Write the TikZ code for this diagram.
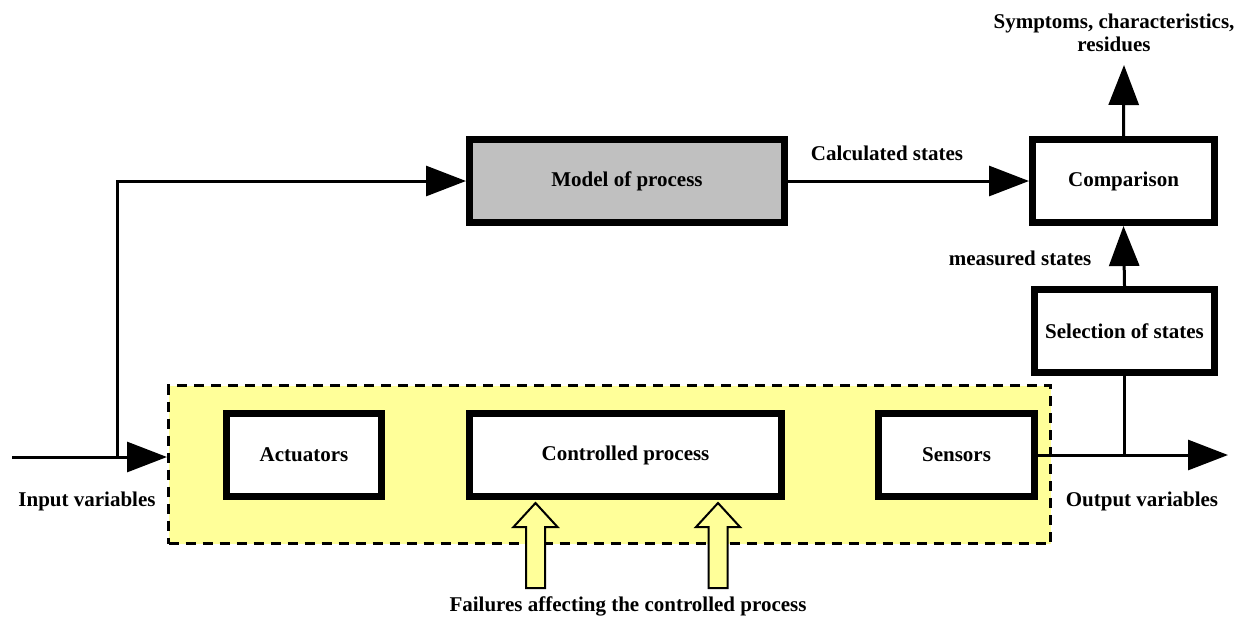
\documentclass[tikz,border=0pt]{standalone}
\usepackage{fontspec}
\setmainfont{Liberation Serif}
\usetikzlibrary{arrows.meta}
\definecolor{boxgray}{HTML}{C0C0C0}
\definecolor{paleyellow}{HTML}{FFFF99}
\tikzset{
  blk/.style={draw=black, line width=7pt, fill=white, inner sep=0pt, minimum height=83pt, font=\bfseries\fontsize{21}{23}\selectfont},
  conn/.style={draw=black, line width=3pt},
  arr/.style={conn, -{Triangle[length=40pt,width=30pt]}},
  lbl/.style={font=\bfseries\fontsize{21}{23}\selectfont, inner sep=0pt, align=center},
  hollow/.style={draw=black, line width=2pt, fill=paleyellow, line join=miter},
}
\begin{document}
\begin{tikzpicture}[x=1pt,y=-1pt]
\useasboundingbox (0,0) rectangle (1244,619);
% yellow region
\node[draw=black, line width=3.5pt, dash pattern=on 10pt off 7pt, fill=paleyellow, minimum width=882pt, minimum height=158pt, inner sep=0pt] (region) at (609.5,464.5) {};
% boxes
\node[blk, fill=boxgray, minimum width=315pt] (model) at (627,181) {Model of process};
\node[blk, minimum width=182pt] (comp) at (1123.5,181) {Comparison};
\node[blk, minimum width=180pt] (sel) at (1124.5,331) {Selection of states};
\node[blk, minimum width=155pt] (act) at (304,455) {Actuators};
\node[blk, minimum width=312pt] (proc) at (625.5,455) {Controlled process};
\node[blk, minimum width=156pt] (sens) at (956.5,455) {Sensors};
% coordinates
\coordinate (in) at (12,457);
\coordinate (split) at (117,457);
\coordinate (regin) at (167,457);
\coordinate (outend) at (1228,455);
\coordinate (symtip) at (1124,65);
% connectors
\draw[arr] (in) -- (regin);
\draw[arr] (split) |- (model.west);
\draw[arr] (model.east) -- (comp.west);
\draw[arr] (sens.east) -- (outend);
\draw[conn] (sel.south) -- (sel.south |- sens.east);
\draw[arr] (sel.north) -- (comp.south);
\draw[arr] (comp.north) -- (symtip);
% hollow arrows
\foreach \cx/\nm in {535.5/fa, 718/fb}{
  \draw[hollow] (\cx-9.5,588) -- (\cx-9.5,527) -- (\cx-22,527) -- (\cx,503) -- (\cx+22,527) -- (\cx+9.5,527) -- (\cx+9.5,588) -- cycle;
}
% labels
\node[lbl] (lcalc) at (887,153) {Calculated states};
\node[lbl] (lmeas) at (1020,258) {measured states};
\node[lbl] (lin) at (87,501) {Input variables};
\node[lbl] (lout) at (1142,501) {Output variables};
\node[lbl] (lsym) at (1114,33) {Symptoms, characteristics,\\residues};
\node[lbl] (lfail) at (628,606) {Failures affecting the controlled process};
\end{tikzpicture}
\end{document}
